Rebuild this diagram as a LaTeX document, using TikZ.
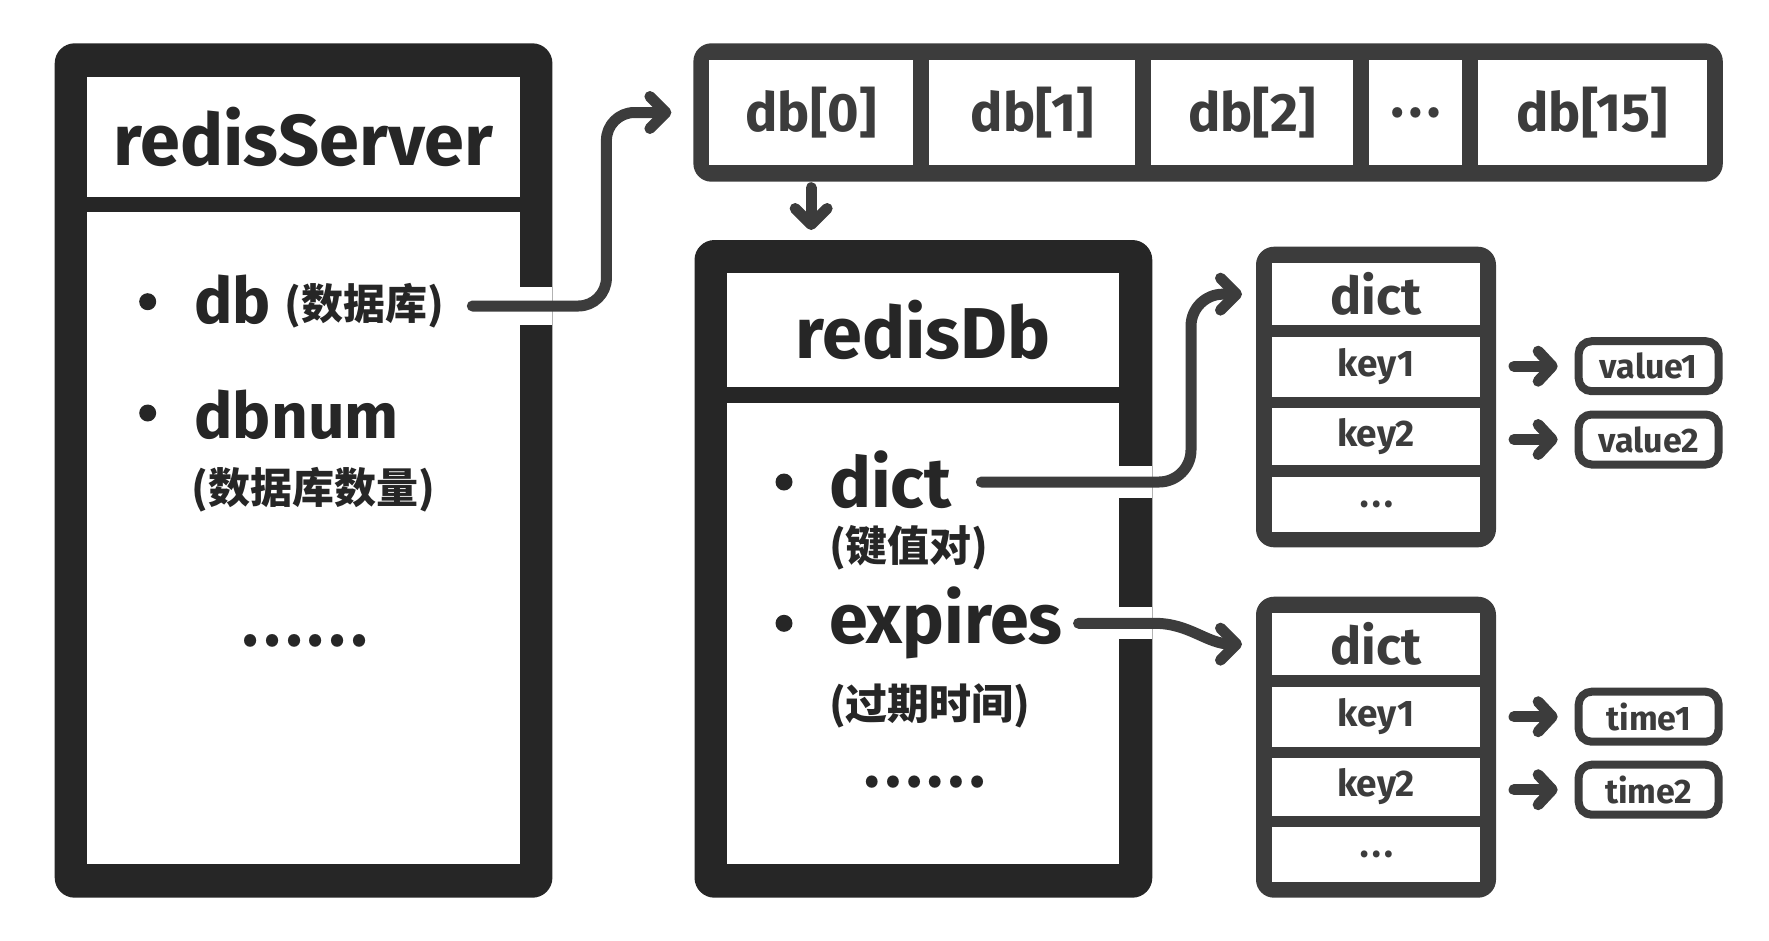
\documentclass[tikz,border=0pt]{standalone}
\usepackage{fontspec}
\setmainfont{Fira Sans}
\newfontfamily\cjk{Noto Sans CJK SC}
\usetikzlibrary{arrows.meta,calc}
\definecolor{ink}{HTML}{262626}
\definecolor{gry}{HTML}{3C3C3C}
\begin{document}
\begin{tikzpicture}[x=1pt,y=-1pt,
  darkbox/.style={fill=ink, rounded corners=20pt, inner sep=0pt, outer sep=0pt},
  graybox/.style={fill=gry, rounded corners=18pt, inner sep=0pt, outer sep=0pt},
  wcell/.style={fill=white, inner sep=0pt, outer sep=0pt, text=gry},
  bdot/.style={circle, fill=ink, minimum size=17pt, inner sep=0pt},
  txt/.style={inner sep=0pt, outer sep=0pt, text=ink},
  big/.style={font=\fontsize{#1}{#1}\selectfont\bfseries},
  cn/.style={font=\cjk\bfseries\fontsize{#1}{#1}\selectfont},
  vbox/.style={draw=gry, line width=8pt, rounded corners=13pt, fill=white, minimum width=140pt, minimum height=50pt, inner sep=0pt, text=gry, big=34},
  arr/.style={draw=gry, line width=11pt, line cap=round, line join=round, -{Straight Barb[length=16pt,width=32pt,round]}},
  sarr/.style={draw=gry, line width=11pt, line cap=round, line join=round, -{Straight Barb[length=14pt,width=30pt,round]}},
]
\useasboundingbox (0,0) rectangle (1769,940);

% ---------------- redisServer ----------------
\node[darkbox, minimum width=497.7pt, minimum height=854.4pt] (rs) at (303.55,470.5) {};
\node[wcell, text=ink, minimum width=432.3pt, minimum height=120pt, big=72] (rst) at (303.55,136.7) {redisServer};
\node[wcell, minimum width=432.3pt, minimum height=652pt] (rsb) at (303.55,538.3) {};

\node[bdot] (b1) at (147.7,301.7) {};
\node[txt, anchor=base west, big=64] (dbt) at (194.5,323) {db};
\node[txt, anchor=west, cn=42] (dbcn) at (284.7,306) {(数据库)};
\node[bdot] (b2) at (147.7,413) {};
\node[txt, anchor=base west, big=64] (dbnt) at (194.5,438) {dbnum};
\node[txt, anchor=west, cn=42] (dbncn) at (191.7,490) {(数据库数量)};
\node[txt, anchor=base, cn=58] (rsdots) at (304.8,646) {……};

% ---------------- db array ----------------
\node[graybox, minimum width=1029.4pt, minimum height=138.4pt] (dbrow) at (1208.1,112.5) {};
\node[wcell, minimum width=204.3pt, minimum height=105pt, big=54] (db0) at (811.15,112.5) {db[0]};
\node[wcell, minimum width=206.3pt, minimum height=105pt, big=54] (db1) at (1032.25,112.5) {db[1]};
\node[wcell, minimum width=201.8pt, minimum height=105pt, big=54] (db2) at (1252.1,112.5) {db[2]};
\node[wcell, minimum width=93pt, minimum height=105pt, cn=48] (dbx) at (1415.5,112.5) {…};
\node[wcell, minimum width=229.4pt, minimum height=105pt, big=54] (db15) at (1592.3,112.5) {db[15]};

% ---------------- redisDb ----------------
\node[darkbox, minimum width=457.8pt, minimum height=657.7pt] (rdb) at (923.4,568.85) {};
\node[wcell, text=ink, minimum width=392pt, minimum height=114.3pt, big=72] (rdbt) at (923,330.15) {redisDb};
\node[wcell, minimum width=392pt, minimum height=461pt] (rdbb) at (923,633.8) {};

\node[bdot] (b3) at (784,482) {};
\node[txt, anchor=base west, big=70] (dictt) at (829,507) {dict};
\node[txt, anchor=west, cn=42] (dictcn) at (829,548) {(键值对)};
\node[bdot] (b4) at (784,623.3) {};
\node[txt, anchor=base west, big=70] (expt) at (829,643) {expires};
\node[txt, anchor=west, cn=42] (expcn) at (829,706) {(过期时间)};
\node[txt, anchor=base, cn=56] (rdbdots) at (924,787) {……};

% ---------------- dict 1 ----------------
\node[graybox, minimum width=240pt, minimum height=300.6pt] (d1) at (1376,397) {};
\node[wcell, minimum width=208.6pt, minimum height=61.7pt, big=52] (d1t) at (1376,294.15) {dict};
\node[wcell, minimum width=208.6pt, minimum height=60.6pt, big=37] (d1k1) at (1376,367) {key1};
\node[wcell, minimum width=208.6pt, minimum height=56.7pt, big=37] (d1k2) at (1376,436.65) {key2};
\node[wcell, minimum width=208.6pt, minimum height=55pt, cn=32] (d1d) at (1376,504.2) {…};

% ---------------- dict 2 ----------------
\node[graybox, minimum width=240pt, minimum height=301pt] (d2) at (1376,747.2) {};
\node[wcell, minimum width=208.6pt, minimum height=61.7pt, big=52] (d2t) at (1376,644.15) {dict};
\node[wcell, minimum width=208.6pt, minimum height=60.6pt, big=37] (d2k1) at (1376,717) {key1};
\node[wcell, minimum width=208.6pt, minimum height=57.4pt, big=37] (d2k2) at (1376,787) {key2};
\node[wcell, minimum width=208.6pt, minimum height=55pt, cn=32] (d2d) at (1376,854.2) {…};

% ---------------- values ----------------
\node[vbox] (v1) at (1648.65,366.2) {value1};
\node[vbox] (v2) at (1648.65,439.5) {value2};
\node[vbox] (t1) at (1648.65,716.7) {time1};
\node[vbox] (t2) at (1648.65,789.7) {time2};

% ---------------- gaps in borders ----------------
\fill[white] ([yshift=19pt]rsb.east |- dbcn.east) rectangle ([yshift=-19pt]rs.east |- dbcn.east);
\fill[white] ([yshift=16pt]rdbb.east |- b3) rectangle ([yshift=-16pt]rdb.east |- b3);
\fill[white] ([yshift=16pt]rdbb.east |- b4) rectangle ([yshift=-16pt]rdb.east |- b4);

% ---------------- connectors ----------------
\draw[arr, rounded corners=28pt] ([xshift=28pt]dbcn.east) -| ([xshift=-87pt]dbrow.west) -- ([xshift=-22pt]dbrow.west);
\draw[arr] ([yshift=-6pt]dbrow.south -| db0.center) -- ([yshift=10pt]rdb.north -| db0.center);
\draw[arr, rounded corners=32pt] ([xshift=30pt]dictt.east |- b3) -| ([xshift=-65pt]d1.west |- d1t.west) -- ([xshift=-14pt]d1.west |- d1t.west);
\draw[arr] ([xshift=16pt]expt.east |- b4) -- ++(76,0) to[out=0,in=180] ([xshift=-14pt]d2.west |- d2t.west);

\draw[sarr] ([xshift=18pt]d1.east |- v1.west) -- ([xshift=-17pt]v1.west);
\draw[sarr] ([xshift=18pt]d1.east |- v2.west) -- ([xshift=-17pt]v2.west);
\draw[sarr] ([xshift=18pt]d2.east |- t1.west) -- ([xshift=-17pt]t1.west);
\draw[sarr] ([xshift=18pt]d2.east |- t2.west) -- ([xshift=-17pt]t2.west);
\end{tikzpicture}
\end{document}
